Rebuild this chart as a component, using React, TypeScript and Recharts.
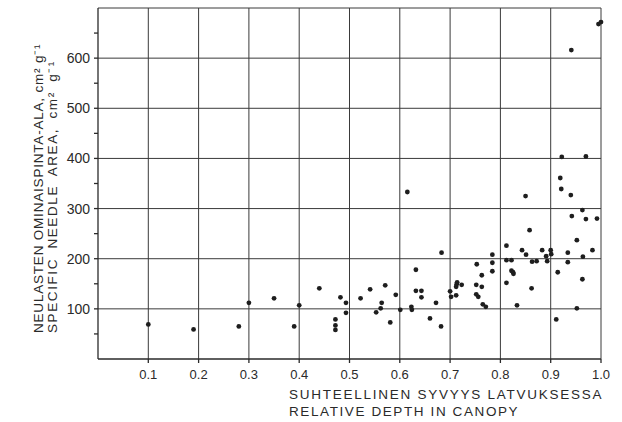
import { CartesianGrid, ReferenceLine, Scatter, ScatterChart, XAxis, YAxis } from 'recharts';

// relative depth in canopy (x) and specific needle area, cm2/g (y)
const depth = [
  0.1, 0.19, 0.28, 0.3, 0.35, 0.39, 0.4, 0.44, 0.472, 0.472, 0.472, 0.482, 0.493, 0.493,
  0.522, 0.541, 0.553, 0.564, 0.562, 0.571, 0.581, 0.592, 0.601, 0.615, 0.623, 0.624, 0.632,
  0.632, 0.643, 0.643, 0.66, 0.672, 0.683, 0.682, 0.7, 0.702, 0.712, 0.712, 0.713, 0.714, 0.723,
  0.753, 0.752, 0.752, 0.756, 0.763, 0.763, 0.765, 0.771, 0.784, 0.784, 0.784, 0.812, 0.812,
  0.812, 0.822, 0.822, 0.825, 0.826, 0.833, 0.843, 0.85, 0.851, 0.858, 0.862, 0.863, 0.872,
  0.883, 0.891, 0.893, 0.9, 0.901, 0.911, 0.914, 0.919, 0.921, 0.922, 0.934, 0.934, 0.94, 0.941,
  0.942, 0.952, 0.952, 0.963, 0.963, 0.964, 0.97, 0.97, 0.983, 0.992, 0.995, 1.0
];
const area = [
  69, 59, 65, 112, 121, 65, 107, 141, 79, 67, 58, 123, 112, 92,
  121, 139, 93, 112, 101, 147, 73, 128, 98, 333, 104, 98, 178,
  136, 136, 123, 81, 112, 212, 65, 135, 124, 127, 144, 149, 153, 148,
  189, 148, 129, 124, 167, 144, 109, 104, 208, 192, 175, 226, 197,
  152, 197, 176, 173, 170, 107, 217, 325, 208, 257, 141, 194, 195,
  217, 205, 195, 217, 209, 79, 173, 361, 339, 403, 212, 193, 327, 616,
  285, 237, 101, 159, 297, 204, 279, 404, 217, 280, 668, 672
];

const xTicks = [0.1, 0.2, 0.3, 0.4, 0.5, 0.6, 0.7, 0.8, 0.9, 1.0];
const yTicks = [50, 100, 150, 200, 250, 300, 350, 400, 450, 500, 550, 600, 650];
const yGrid = [100, 200, 300, 400, 500, 600, 700];

const xTitle = ['SUHTEELLINEN SYVYYS LATVUKSESSA', 'RELATIVE DEPTH IN CANOPY'];
const yTitle = ['NEULASTEN OMINAISPINTA-ALA, cm² g⁻¹', 'SPECIFIC NEEDLE AREA, cm² g⁻¹'];

const points = depth.map((d, i) => ({ depth: d, area: area[i] }));

const ink = '#2a2a2a';
const font = '"Liberation Sans", Arial, sans-serif';

const Dot = (props: any) => <circle cx={props.cx} cy={props.cy} r={2.4} fill='#1e1e1e' />;

export default function App() {
  return (
    <div style={{ position: 'absolute', left: 0, top: 0, background: '#fff' }}>
      <ScatterChart
        width={622}
        height={422}
        margin={{ top: 8, right: 21, bottom: 0, left: 0 }}
        style={{ fontFamily: font }}
      >
        <CartesianGrid horizontal={false} vertical={false} />
        <XAxis
          type='number'
          dataKey='depth'
          domain={[0, 1]}
          ticks={xTicks}
          tickFormatter={(v) => v.toFixed(1)}
          height={63}
          tickSize={4}
          tickMargin={7}
          stroke={ink}
          strokeWidth={1.3}
          tick={{ fill: ink, fontSize: 13 }}
          label={{
            content: () => (
              <text x={289} y={399} fill={ink} fontSize={13.5} fontFamily={font}>
                <tspan x={289} letterSpacing={1.75}>{xTitle[0]}</tspan>
                <tspan x={289} dy={17} letterSpacing={1.6}>{xTitle[1]}</tspan>
              </text>
            )
          }}
        />
        <YAxis
          type='number'
          dataKey='area'
          domain={[0, 700]}
          ticks={yTicks}
          interval={0}
          tickFormatter={(v) => (v % 100 === 0 ? String(v) : '')}
          width={98}
          tickSize={4}
          tickMargin={4}
          stroke={ink}
          strokeWidth={1.3}
          tick={{ fill: ink, fontSize: 14 }}
          label={{
            content: () => (
              <text
                x={0}
                y={0}
                transform='translate(43 333) rotate(-90)'
                fill={ink}
                fontSize={13.5}
                fontFamily={font}
              >
                <tspan x={0} letterSpacing={0.8}>{yTitle[0]}</tspan>
                <tspan x={0} dy={13.5} letterSpacing={1.6} wordSpacing={4}>{yTitle[1]}</tspan>
              </text>
            )
          }}
        />
        {yGrid.map((v) => (
          <ReferenceLine key={'y' + v} y={v} stroke='#3a3a3a' strokeWidth={1} />
        ))}
        {xTicks.map((v) => (
          <ReferenceLine key={'x' + v} x={v} stroke='#3a3a3a' strokeWidth={1} />
        ))}
        <Scatter data={points} shape={Dot} isAnimationActive={false} />
      </ScatterChart>
    </div>
  );
}
